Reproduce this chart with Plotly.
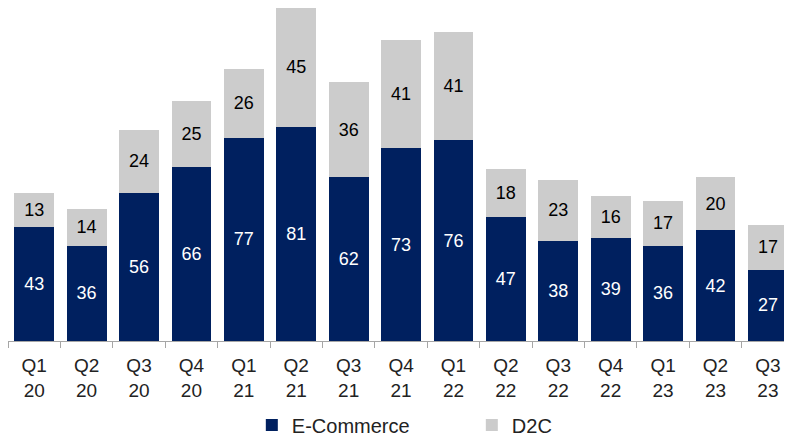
import plotly.graph_objects as go

categories = ["Q1<br>20", "Q2<br>20", "Q3<br>20", "Q4<br>20", "Q1<br>21", "Q2<br>21", "Q3<br>21",
              "Q4<br>21", "Q1<br>22", "Q2<br>22", "Q3<br>22", "Q4<br>22", "Q1<br>23", "Q2<br>23", "Q3<br>23"]
ecommerce = [43, 36, 56, 66, 77, 81, 62, 73, 76, 47, 38, 39, 36, 42, 27]
d2c = [13, 14, 24, 25, 26, 45, 36, 41, 41, 18, 23, 16, 17, 20, 17]

font_family = "Liberation Sans, Arial, sans-serif"

fig = go.Figure()
fig.add_trace(go.Bar(
    x=categories, y=ecommerce, name="E-Commerce",
    marker=dict(color="#00205F", line=dict(width=0)),
    text=ecommerce, textposition="inside", insidetextanchor="middle",
    textfont=dict(color="white", size=18, family=font_family),
))
fig.add_trace(go.Bar(
    x=categories, y=d2c, name="D2C",
    marker=dict(color="#CCCCCC", line=dict(width=0)),
    text=d2c, textposition="inside", insidetextanchor="middle",
    textfont=dict(color="black", size=18, family=font_family),
))

fig.update_layout(
    barmode="stack",
    bargap=0.24,
    width=784, height=429,
    margin=dict(l=0, r=0, t=0, b=96, autoexpand=False),
    paper_bgcolor="white", plot_bgcolor="white",
    font=dict(family=font_family, size=18, color="#222222"),
    uniformtext=dict(minsize=10, mode="show"),
    legend=dict(orientation="h", x=0.311, xanchor="left", y=-0.252, yanchor="middle",
                font=dict(size=20, color="#222222"), traceorder="normal",
                itemwidth=30, entrywidthmode="pixels", entrywidth=175),
    showlegend=True,
)
fig.update_xaxes(
    range=[-0.5, 14.46],
    showline=True, linecolor="#A6A6A6", linewidth=1,
    ticks="outside", tickson="boundaries", ticklen=6, tickcolor="#A6A6A6",
    ticklabelstandoff=7,
    tickfont=dict(size=19, color="#222222"), showgrid=False,
)
fig.update_yaxes(visible=False, range=[0, 126], showgrid=False)

fig.write_html("out.html")
